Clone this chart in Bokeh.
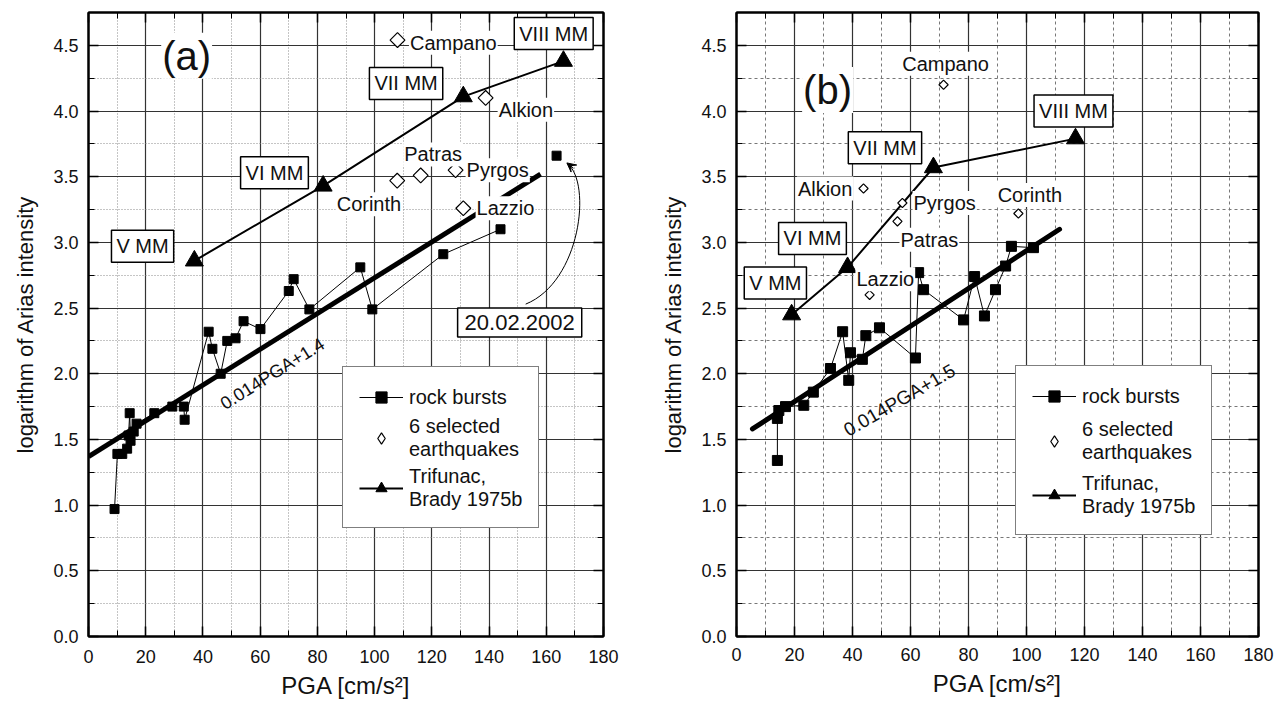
from bokeh.plotting import figure
from bokeh.models import (Label, Legend, LegendItem, LinearAxis, SingleIntervalTicker,
                          NumeralTickFormatter, Arrow, VeeHead, Range1d)
from bokeh.layouts import row
from bokeh.embed import file_html
from bokeh.resources import INLINE

FONT = "Liberation Sans"
NAN = float("nan")

# ---------------- data: panel (a) ----------------
a_rock_pga = [9.1, 10.1, 11.8, 13.5, 14.0, 14.4, 14.7, 15.8, 16.8, 23.0, 29.3, 33.3, 33.6,
              42.0, 43.3, 46.2, 48.5, 51.4, 54.2, 60.1, 70.0, 71.7, 77.2, 95.0, 99.2, 124.0, 144.0]
a_rock_ai = [0.97, 1.39, 1.39, 1.43, 1.53, 1.70, 1.49, 1.56, 1.62, 1.70, 1.75, 1.75, 1.65,
             2.32, 2.19, 2.00, 2.25, 2.27, 2.40, 2.34, 2.63, 2.72, 2.49, 2.81, 2.49, 2.91, 3.10]
a_event_pga = [163.6]          # 20.02.2002
a_event_ai = [3.66]
a_eq_names = ["Campano", "Alkion", "Corinth", "Patras", "Pyrgos", "Lazzio"]
a_eq_pga = [108.0, 138.8, 107.9, 116.1, 128.3, 131.0]
a_eq_ai = [4.54, 4.10, 3.47, 3.51, 3.55, 3.26]
a_tb_names = ["V MM", "VI MM", "VII MM", "VIII MM"]
a_tb_pga = [37.0, 82.0, 131.0, 166.0]
a_tb_ai = [2.86, 3.43, 4.11, 4.38]
a_fit_pga = [0.0, 158.0]
a_fit_ai = [1.37, 3.52]

# ---------------- data: panel (b) ----------------
b_rock_pga = [14.1, 14.1, 14.6, 16.9, 23.2, 26.5, 32.4, 36.6, 38.7, 39.3, 43.4, 44.6, 49.3,
              61.7, 62.8, 64.5, 78.3, 82.1, 85.5, 89.3, 92.8, 94.8, 102.4]
b_rock_ai = [1.34, 1.66, 1.72, 1.75, 1.76, 1.86, 2.04, 2.32, 1.95, 2.16, 2.11, 2.29, 2.35,
             2.12, 2.77, 2.64, 2.41, 2.74, 2.44, 2.64, 2.82, 2.97, 2.96]
b_eq_names = ["Campano", "Alkion", "Pyrgos", "Patras", "Lazzio", "Corinth"]
b_eq_pga = [71.4, 43.8, 57.2, 55.5, 45.9, 97.2]
b_eq_ai = [4.20, 3.41, 3.30, 3.16, 2.60, 3.22]
b_tb_names = ["V MM", "VI MM", "VII MM", "VIII MM"]
b_tb_pga = [19.0, 38.3, 67.9, 116.9]
b_tb_ai = [2.45, 2.81, 3.57, 3.79]
b_fit_pga = [5.5, 111.4]
b_fit_ai = [1.58, 3.10]

x_ticks = [0, 20, 40, 60, 80, 100, 120, 140, 160, 180]
y_ticks = [0.0, 0.5, 1.0, 1.5, 2.0, 2.5, 3.0, 3.5, 4.0, 4.5]


def make_fig(w, h, bl, br, bt, bb, minor_dash, minor_color, tick_sd, lab_sd):
    p = figure(width=w, height=h,
               x_range=Range1d(0, 180), y_range=Range1d(0, 4.75),
               output_backend="svg", toolbar_location=None,
               min_border_left=bl, min_border_right=br, min_border_top=bt, min_border_bottom=bb,
               background_fill_color="white", border_fill_color="white")
    xt = SingleIntervalTicker(interval=20, num_minor_ticks=2)
    yt = SingleIntervalTicker(interval=0.5, num_minor_ticks=2)
    p.xaxis.ticker = xt
    p.yaxis.ticker = yt
    p.xgrid.ticker = xt
    p.ygrid.ticker = yt
    p.yaxis.formatter = NumeralTickFormatter(format="0.0")
    for ax in (p.xaxis[0], p.yaxis[0]):
        ax.major_tick_in = 10
        ax.major_tick_out = 0
        ax.minor_tick_in = 6
        ax.minor_tick_out = 0
        ax.axis_line_width = 2
        ax.major_tick_line_width = 1.5
        ax.major_label_text_font = FONT
        ax.major_label_text_font_size = "18px"
        ax.major_label_text_color = "#111111"
        ax.axis_label_text_font = FONT
        ax.axis_label_text_font_style = "normal"
        ax.axis_label_text_color = "#111111"
    p.xaxis.major_label_standoff = tick_sd
    p.yaxis.major_label_standoff = 10
    p.xaxis.axis_label = "PGA [cm/s\u00b2]"
    p.yaxis.axis_label = "logarithm of Arias intensity"
    p.xaxis.axis_label_text_font_size = "24px"
    p.yaxis.axis_label_text_font_size = "22px"
    p.yaxis.axis_label_standoff = 12
    p.xaxis.axis_label_standoff = lab_sd
    # mirrored tick marks on top and right (no labels)
    for loc, t, vals in (("above", xt, x_ticks), ("right", yt, y_ticks)):
        ax = LinearAxis(ticker=t, major_label_standoff=0,
                        major_label_overrides={v: "" for v in vals},
                        major_label_text_font_size="2px",
                        major_tick_in=10, major_tick_out=0, minor_tick_in=6, minor_tick_out=0,
                        axis_line_width=2, major_tick_line_width=1.5)
        p.add_layout(ax, loc)
    for g in (p.xgrid[0], p.ygrid[0]):
        g.grid_line_color = "#333333"
        g.grid_line_width = 1.2
        g.minor_grid_line_color = minor_color
        g.minor_grid_line_dash = minor_dash
        g.minor_grid_line_width = 1
    p.outline_line_color = "black"
    p.outline_line_width = 2
    return p


def add_label(p, x, y, text, size, align="left", boxed=False, angle=0, pad=2):
    lab = Label(x=x, y=y, text=text, text_font=FONT, text_font_size=size,
                text_align=align, text_baseline="middle", text_color="#111111",
                background_fill_color=None if angle else "white",
                border_line_color="black" if boxed else None,
                border_line_width=1.5, padding=pad,
                angle=angle, angle_units="deg")
    p.add_layout(lab)


def add_legend(p, rock_r, eq_r, tb_r, loc, fs, lh, spacing):
    leg = Legend(items=[LegendItem(label="rock bursts", renderers=rock_r),
                        LegendItem(label="6 selected\nearthquakes", renderers=eq_r),
                        LegendItem(label="Trifunac,\nBrady 1975b", renderers=tb_r)],
                 location=loc, border_line_color="black", border_line_width=1.5,
                 background_fill_color="white", background_fill_alpha=1.0,
                 label_text_font=FONT, label_text_font_size=fs, label_text_color="#111111",
                 label_text_line_height=lh,
                 glyph_width=44, glyph_height=28, padding=16, spacing=spacing, margin=0,
                 label_standoff=6)
    p.add_layout(leg)


def legend_diamond(p):
    # legend-only proxy: a single NaN point draws nothing in the plot area,
    # but gives the legend an upright diamond symbol
    return p.scatter([NAN], [NAN], marker="diamond", size=12,
                     fill_color="white", line_color="black", line_width=1.2)


# ---------------- panel (a) ----------------
pa = make_fig(648, 716, 88, 45, 10, 80, "1 2", "#8a8a8a", 13, 6)
pa.line(a_fit_pga, a_fit_ai, line_width=5, color="black")
ra_l = pa.line(a_rock_pga, a_rock_ai, line_width=1, color="black")
ra_s = pa.scatter(a_rock_pga, a_rock_ai, marker="square", size=9, color="black")
pa.scatter(a_event_pga, a_event_ai, marker="square", size=9, color="black")
ta_l = pa.line(a_tb_pga, a_tb_ai, line_width=2, color="black")
ta_s = pa.scatter(a_tb_pga, a_tb_ai, marker="triangle", size=18, color="black")
pa.scatter(a_eq_pga, a_eq_ai, marker="square", angle=45, angle_units="deg", size=10.5,
           fill_color="white", line_color="black", line_width=1.2)
ea_leg = legend_diamond(pa)
# annotation curve for 20.02.2002
pa.bezier(x0=[152.8], y0=[2.53], x1=[167.4], y1=[3.60], cx0=[172.0], cy0=[2.70],
          cx1=[176.0], cy1=[3.45], line_color="black", line_width=1)
pa.add_layout(Arrow(end=VeeHead(size=9, fill_color="black", line_color="black"),
                    x_start=169.5, y_start=3.565, x_end=167.2, y_end=3.605,
                    line_color="black", line_width=1))

add_label(pa, 34.3, 4.42, "(a)", "40px", align="center", pad=1)
for (x, y, t) in [(18.9, 2.97, a_tb_names[0]), (65.0, 3.53, a_tb_names[1]),
                  (111.0, 4.21, a_tb_names[2]), (162.6, 4.59, a_tb_names[3])]:
    add_label(pa, x, y, t, "20px", align="center", boxed=True, pad=5)
for (x, y, t) in [(112.0, 4.52, "Campano"), (143.0, 4.01, "Alkion"), (110.0, 3.67, "Patras"),
                  (131.8, 3.55, "Pyrgos"), (86.4, 3.29, "Corinth"), (135.3, 3.26, "Lazzio")]:
    add_label(pa, x, y, t, "20px", pad=1)
add_label(pa, 150.7, 2.39, "20.02.2002", "22px", align="center", boxed=True, pad=7)
add_label(pa, 64.3, 2.0, "0.014PGA+1.4", "18px", align="center", angle=32, pad=0)
add_legend(pa, [ra_l, ra_s], [ea_leg], [ta_l, ta_s], (254, 108), "20px", 1.25, 4)

# ---------------- panel (b) ----------------
pb = make_fig(638, 716, 88, 28, 12, 64, "3 3", "#777777", 11, 6)
pb.line(b_fit_pga, b_fit_ai, line_width=5, color="black", line_cap="round")
rb_l = pb.line(b_rock_pga, b_rock_ai, line_width=1, color="black")
rb_s = pb.scatter(b_rock_pga, b_rock_ai, marker="square", size=10, color="black")
tb_l = pb.line(b_tb_pga, b_tb_ai, line_width=2, color="black")
tb_s = pb.scatter(b_tb_pga, b_tb_ai, marker="triangle", size=18, color="black")
pb.scatter(b_eq_pga, b_eq_ai, marker="square", angle=45, angle_units="deg", size=6.5,
           fill_color="white", line_color="black", line_width=1.2)
eb_leg = legend_diamond(pb)

add_label(pb, 31.4, 4.16, "(b)", "40px", align="center", pad=1)
for (x, y, t) in [(13.4, 2.69, b_tb_names[0]), (26.2, 3.03, b_tb_names[1]),
                  (51.2, 3.72, b_tb_names[2]), (116.2, 4.00, b_tb_names[3])]:
    add_label(pb, x, y, t, "20px", align="center", boxed=True, pad=5)
add_label(pb, 72.1, 4.36, "Campano", "20px", align="center", pad=1)
add_label(pb, 40.3, 3.41, "Alkion", "20px", align="right", pad=1)
for (x, y, t) in [(60.7, 3.30, "Pyrgos"), (56.2, 3.02, "Patras"), (41.0, 2.72, "Lazzio"),
                  (89.7, 3.36, "Corinth")]:
    add_label(pb, x, y, t, "20px", pad=1)
add_label(pb, 56.2, 1.80, "0.014PGA+1.5", "19px", align="center", angle=30, pad=0)
add_legend(pb, [rb_l, rb_s], [eb_leg], [tb_l, tb_s], (279, 101), "20px", 1.45, 8)

layout = row(pa, pb)
open("out.html", "w").write(file_html(layout, INLINE))
